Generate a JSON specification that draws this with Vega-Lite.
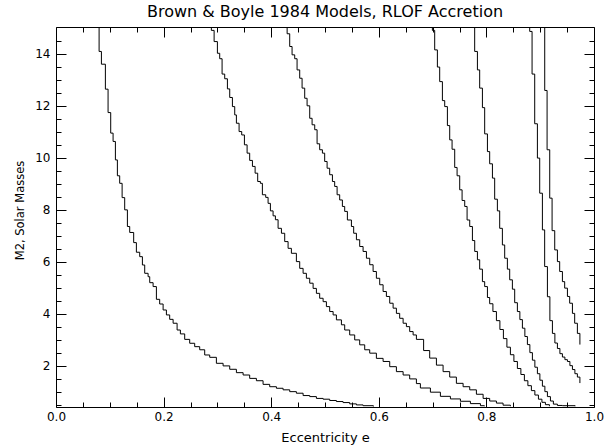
{
"$schema": "https://vega.github.io/schema/vega-lite/v6.json",
"autosize": {"type": "none"},
"width": 538, "height": 380,
"padding": {"left": 56, "top": 27, "right": 18, "bottom": 40},
"background": "white",
"title": {"text": "Brown & Boyle 1984 Models, RLOF Accretion", "font": "DejaVu Sans", "fontSize": 16, "fontWeight": "normal", "color": "black", "anchor": "middle", "frame": "group", "offset": 5},
"data": {"values": [
{"c":1,"e":0.0801,"m":15.0},{"c":1,"e":0.0801,"m":14.09},{"c":1,"e":0.0844,"m":13.60},{"c":1,"e":0.0918,"m":12.64},{"c":1,"e":0.0968,"m":11.74},{"c":1,"e":0.1017,"m":10.95},{"c":1,"e":0.1061,"m":10.63},{"c":1,"e":0.1104,"m":9.92},{"c":1,"e":0.1141,"m":9.31},{"c":1,"e":0.1184,"m":9.02},{"c":1,"e":0.1229,"m":8.47},{"c":1,"e":0.1277,"m":8.00},{"c":1,"e":0.1327,"m":7.36},{"c":1,"e":0.1370,"m":7.13},{"c":1,"e":0.1444,"m":6.74},{"c":1,"e":0.1494,"m":6.37},{"c":1,"e":0.1556,"m":6.20},{"c":1,"e":0.1606,"m":5.88},{"c":1,"e":0.1649,"m":5.56},{"c":1,"e":0.1712,"m":5.43},{"c":1,"e":0.1742,"m":5.20},{"c":1,"e":0.1805,"m":5.05},{"c":1,"e":0.1866,"m":4.56},{"c":1,"e":0.1927,"m":4.38},{"c":1,"e":0.1991,"m":4.15},{"c":1,"e":0.2052,"m":3.96},{"c":1,"e":0.2113,"m":3.79},{"c":1,"e":0.2177,"m":3.64},{"c":1,"e":0.2251,"m":3.38},{"c":1,"e":0.2312,"m":3.23},{"c":1,"e":0.2392,"m":3.02},{"c":1,"e":0.2485,"m":2.87},{"c":1,"e":0.2578,"m":2.74},{"c":1,"e":0.2671,"m":2.62},{"c":1,"e":0.2764,"m":2.42},{"c":1,"e":0.2857,"m":2.33},{"c":1,"e":0.2981,"m":2.10},{"c":1,"e":0.3106,"m":2.00},{"c":1,"e":0.3229,"m":1.87},{"c":1,"e":0.3353,"m":1.74},{"c":1,"e":0.3478,"m":1.65},{"c":1,"e":0.3600,"m":1.52},{"c":1,"e":0.3725,"m":1.43},{"c":1,"e":0.3849,"m":1.29},{"c":1,"e":0.3972,"m":1.20},{"c":1,"e":0.4097,"m":1.14},{"c":1,"e":0.4221,"m":1.08},{"c":1,"e":0.4344,"m":1.01},{"c":1,"e":0.4468,"m":0.95},{"c":1,"e":0.4593,"m":0.86},{"c":1,"e":0.4716,"m":0.82},{"c":1,"e":0.4840,"m":0.75},{"c":1,"e":0.4965,"m":0.72},{"c":1,"e":0.5087,"m":0.67},{"c":1,"e":0.5212,"m":0.63},{"c":1,"e":0.5336,"m":0.59},{"c":1,"e":0.5459,"m":0.54},{"c":1,"e":0.5584,"m":0.50},{"c":1,"e":0.5708,"m":0.47},{"c":1,"e":0.5900,"m":0.44},
{"c":2,"e":0.2888,"m":15.0},{"c":2,"e":0.2888,"m":14.90},{"c":2,"e":0.2939,"m":14.47},{"c":2,"e":0.3000,"m":14.02},{"c":2,"e":0.3043,"m":13.81},{"c":2,"e":0.3087,"m":13.22},{"c":2,"e":0.3136,"m":13.04},{"c":2,"e":0.3186,"m":12.65},{"c":2,"e":0.3229,"m":12.32},{"c":2,"e":0.3279,"m":11.97},{"c":2,"e":0.3322,"m":11.65},{"c":2,"e":0.3353,"m":11.33},{"c":2,"e":0.3403,"m":11.01},{"c":2,"e":0.3452,"m":10.88},{"c":2,"e":0.3502,"m":10.50},{"c":2,"e":0.3552,"m":10.18},{"c":2,"e":0.3600,"m":9.90},{"c":2,"e":0.3651,"m":9.67},{"c":2,"e":0.3701,"m":9.41},{"c":2,"e":0.3749,"m":9.09},{"c":2,"e":0.3799,"m":9.02},{"c":2,"e":0.3836,"m":8.58},{"c":2,"e":0.3898,"m":8.48},{"c":2,"e":0.3942,"m":8.25},{"c":2,"e":0.3985,"m":7.96},{"c":2,"e":0.4035,"m":7.77},{"c":2,"e":0.4078,"m":7.62},{"c":2,"e":0.4128,"m":7.29},{"c":2,"e":0.4190,"m":7.10},{"c":2,"e":0.4251,"m":6.78},{"c":2,"e":0.4314,"m":6.52},{"c":2,"e":0.4375,"m":6.33},{"c":2,"e":0.4468,"m":6.01},{"c":2,"e":0.4530,"m":5.75},{"c":2,"e":0.4593,"m":5.56},{"c":2,"e":0.4654,"m":5.37},{"c":2,"e":0.4716,"m":5.18},{"c":2,"e":0.4779,"m":4.98},{"c":2,"e":0.4840,"m":4.79},{"c":2,"e":0.4901,"m":4.60},{"c":2,"e":0.4965,"m":4.47},{"c":2,"e":0.5026,"m":4.28},{"c":2,"e":0.5087,"m":4.09},{"c":2,"e":0.5151,"m":3.96},{"c":2,"e":0.5212,"m":3.77},{"c":2,"e":0.5305,"m":3.58},{"c":2,"e":0.5366,"m":3.38},{"c":2,"e":0.5459,"m":3.19},{"c":2,"e":0.5552,"m":3.00},{"c":2,"e":0.5645,"m":2.81},{"c":2,"e":0.5738,"m":2.62},{"c":2,"e":0.5831,"m":2.49},{"c":2,"e":0.5955,"m":2.29},{"c":2,"e":0.6080,"m":2.17},{"c":2,"e":0.6203,"m":1.97},{"c":2,"e":0.6327,"m":1.78},{"c":2,"e":0.6452,"m":1.65},{"c":2,"e":0.6574,"m":1.50},{"c":2,"e":0.6699,"m":1.32},{"c":2,"e":0.6773,"m":1.15},{"c":2,"e":0.6959,"m":0.99},{"c":2,"e":0.7145,"m":0.83},{"c":2,"e":0.7331,"m":0.73},{"c":2,"e":0.7517,"m":0.64},{"c":2,"e":0.7703,"m":0.55},{"c":2,"e":0.7889,"m":0.47},{"c":2,"e":0.7963,"m":0.45},
{"c":3,"e":0.4296,"m":15.0},{"c":3,"e":0.4296,"m":14.77},{"c":3,"e":0.4344,"m":14.28},{"c":3,"e":0.4388,"m":13.96},{"c":3,"e":0.4437,"m":13.81},{"c":3,"e":0.4481,"m":13.38},{"c":3,"e":0.4530,"m":13.06},{"c":3,"e":0.4574,"m":12.68},{"c":3,"e":0.4623,"m":12.29},{"c":3,"e":0.4667,"m":12.00},{"c":3,"e":0.4716,"m":11.52},{"c":3,"e":0.4760,"m":11.27},{"c":3,"e":0.4809,"m":11.08},{"c":3,"e":0.4853,"m":10.54},{"c":3,"e":0.4901,"m":10.31},{"c":3,"e":0.4952,"m":10.18},{"c":3,"e":0.4994,"m":9.86},{"c":3,"e":0.5039,"m":9.60},{"c":3,"e":0.5087,"m":9.35},{"c":3,"e":0.5138,"m":9.09},{"c":3,"e":0.5180,"m":8.90},{"c":3,"e":0.5225,"m":8.58},{"c":3,"e":0.5273,"m":8.38},{"c":3,"e":0.5323,"m":8.13},{"c":3,"e":0.5366,"m":7.94},{"c":3,"e":0.5416,"m":7.61},{"c":3,"e":0.5491,"m":7.36},{"c":3,"e":0.5533,"m":7.10},{"c":3,"e":0.5584,"m":6.85},{"c":3,"e":0.5645,"m":6.59},{"c":3,"e":0.5708,"m":6.40},{"c":3,"e":0.5770,"m":6.14},{"c":3,"e":0.5831,"m":5.89},{"c":3,"e":0.5894,"m":5.63},{"c":3,"e":0.5955,"m":5.37},{"c":3,"e":0.6017,"m":5.12},{"c":3,"e":0.6080,"m":4.86},{"c":3,"e":0.6141,"m":4.67},{"c":3,"e":0.6203,"m":4.41},{"c":3,"e":0.6266,"m":4.22},{"c":3,"e":0.6327,"m":4.02},{"c":3,"e":0.6388,"m":3.83},{"c":3,"e":0.6452,"m":3.64},{"c":3,"e":0.6513,"m":3.51},{"c":3,"e":0.6574,"m":3.32},{"c":3,"e":0.6638,"m":3.19},{"c":3,"e":0.6699,"m":3.02},{"c":3,"e":0.6833,"m":2.59},{"c":3,"e":0.6946,"m":2.30},{"c":3,"e":0.7071,"m":2.03},{"c":3,"e":0.7195,"m":1.78},{"c":3,"e":0.7318,"m":1.57},{"c":3,"e":0.7442,"m":1.33},{"c":3,"e":0.7567,"m":1.20},{"c":3,"e":0.7690,"m":1.08},{"c":3,"e":0.7814,"m":0.91},{"c":3,"e":0.7939,"m":0.75},{"c":3,"e":0.8061,"m":0.65},{"c":3,"e":0.8186,"m":0.57},{"c":3,"e":0.8310,"m":0.49},{"c":3,"e":0.8446,"m":0.45},
{"c":4,"e":0.6996,"m":15.0},{"c":4,"e":0.6996,"m":14.90},{"c":4,"e":0.7039,"m":14.15},{"c":4,"e":0.7089,"m":13.49},{"c":4,"e":0.7132,"m":12.93},{"c":4,"e":0.7182,"m":12.20},{"c":4,"e":0.7225,"m":11.97},{"c":4,"e":0.7275,"m":11.24},{"c":4,"e":0.7318,"m":10.69},{"c":4,"e":0.7362,"m":10.33},{"c":4,"e":0.7411,"m":9.63},{"c":4,"e":0.7455,"m":9.31},{"c":4,"e":0.7504,"m":8.77},{"c":4,"e":0.7548,"m":8.36},{"c":4,"e":0.7597,"m":8.13},{"c":4,"e":0.7641,"m":7.61},{"c":4,"e":0.7690,"m":7.36},{"c":4,"e":0.7740,"m":6.82},{"c":4,"e":0.7783,"m":6.40},{"c":4,"e":0.7833,"m":6.08},{"c":4,"e":0.7875,"m":5.72},{"c":4,"e":0.7926,"m":5.24},{"c":4,"e":0.7968,"m":5.05},{"c":4,"e":0.8019,"m":4.63},{"c":4,"e":0.8061,"m":4.39},{"c":4,"e":0.8121,"m":4.09},{"c":4,"e":0.8186,"m":3.74},{"c":4,"e":0.8251,"m":3.40},{"c":4,"e":0.8316,"m":3.05},{"c":4,"e":0.8381,"m":2.72},{"c":4,"e":0.8446,"m":2.43},{"c":4,"e":0.8511,"m":2.17},{"c":4,"e":0.8576,"m":1.90},{"c":4,"e":0.8641,"m":1.67},{"c":4,"e":0.8706,"m":1.43},{"c":4,"e":0.8771,"m":1.24},{"c":4,"e":0.8836,"m":1.05},{"c":4,"e":0.8901,"m":0.88},{"c":4,"e":0.8967,"m":0.72},{"c":4,"e":0.9032,"m":0.60},{"c":4,"e":0.9097,"m":0.51},{"c":4,"e":0.9171,"m":0.45},
{"c":5,"e":0.7782,"m":15.0},{"c":5,"e":0.7782,"m":14.09},{"c":5,"e":0.7833,"m":13.38},{"c":5,"e":0.7875,"m":12.68},{"c":5,"e":0.7926,"m":11.93},{"c":5,"e":0.7968,"m":10.92},{"c":5,"e":0.8019,"m":10.24},{"c":5,"e":0.8061,"m":9.77},{"c":5,"e":0.8112,"m":9.22},{"c":5,"e":0.8154,"m":8.41},{"c":5,"e":0.8204,"m":7.96},{"c":5,"e":0.8247,"m":7.29},{"c":5,"e":0.8297,"m":6.65},{"c":5,"e":0.8340,"m":6.14},{"c":5,"e":0.8390,"m":5.72},{"c":5,"e":0.8433,"m":5.31},{"c":5,"e":0.8483,"m":4.95},{"c":5,"e":0.8526,"m":4.43},{"c":5,"e":0.8576,"m":4.09},{"c":5,"e":0.8622,"m":3.78},{"c":5,"e":0.8669,"m":3.45},{"c":5,"e":0.8715,"m":3.13},{"c":5,"e":0.8762,"m":2.82},{"c":5,"e":0.8808,"m":2.51},{"c":5,"e":0.8855,"m":2.22},{"c":5,"e":0.8901,"m":1.95},{"c":5,"e":0.8948,"m":1.70},{"c":5,"e":0.8994,"m":1.45},{"c":5,"e":0.9041,"m":1.22},{"c":5,"e":0.9087,"m":1.01},{"c":5,"e":0.9134,"m":0.82},{"c":5,"e":0.9190,"m":0.65},{"c":5,"e":0.9245,"m":0.53},{"c":5,"e":0.9320,"m":0.48},{"c":5,"e":0.9413,"m":0.47},{"c":5,"e":0.9650,"m":0.45},
{"c":6,"e":0.8805,"m":15.0},{"c":6,"e":0.8805,"m":14.86},{"c":6,"e":0.8849,"m":13.22},{"c":6,"e":0.8898,"m":11.31},{"c":6,"e":0.8948,"m":9.99},{"c":6,"e":0.8991,"m":8.64},{"c":6,"e":0.9041,"m":7.23},{"c":6,"e":0.9083,"m":5.82},{"c":6,"e":0.9134,"m":4.66},{"c":6,"e":0.9180,"m":3.74},{"c":6,"e":0.9227,"m":3.25},{"c":6,"e":0.9273,"m":2.88},{"c":6,"e":0.9320,"m":2.67},{"c":6,"e":0.9366,"m":2.47},{"c":6,"e":0.9413,"m":2.34},{"c":6,"e":0.9459,"m":2.24},{"c":6,"e":0.9506,"m":2.17},{"c":6,"e":0.9552,"m":2.01},{"c":6,"e":0.9599,"m":1.86},{"c":6,"e":0.9645,"m":1.70},{"c":6,"e":0.9691,"m":1.57},{"c":6,"e":0.9738,"m":1.34},
{"c":7,"e":0.9084,"m":15.0},{"c":7,"e":0.9084,"m":12.59},{"c":7,"e":0.9128,"m":10.31},{"c":7,"e":0.9177,"m":8.45},{"c":7,"e":0.9221,"m":7.20},{"c":7,"e":0.9270,"m":6.46},{"c":7,"e":0.9320,"m":6.01},{"c":7,"e":0.9362,"m":5.63},{"c":7,"e":0.9413,"m":5.24},{"c":7,"e":0.9455,"m":4.99},{"c":7,"e":0.9506,"m":4.67},{"c":7,"e":0.9548,"m":4.41},{"c":7,"e":0.9599,"m":4.02},{"c":7,"e":0.9641,"m":3.64},{"c":7,"e":0.9691,"m":3.25},{"c":7,"e":0.9738,"m":2.82}
]},
"layer": [
{"mark": {"type": "line", "interpolate": "step-after", "color": "black", "strokeWidth": 1, "clip": true},
 "encoding": {
  "x": {"field": "e", "type": "quantitative", "scale": {"domain": [0, 1], "nice": false, "zero": false},
        "axis": {"orient": "bottom", "values": [0, 0.2, 0.4, 0.6, 0.8, 1.0], "format": ".1f", "tickSize": -10, "labelPadding": 14, "labelFlush": false, "labelOverlap": false, "labelFont": "DejaVu Sans", "labelFontSize": 12, "labelColor": "black", "grid": false, "domainColor": "black", "tickColor": "black", "title": "Eccentricity e", "titleFont": "DejaVu Sans", "titleFontSize": 13, "titleFontWeight": "normal", "titleColor": "black", "titleY": 30, "titleBaseline": "middle"}},
  "y": {"field": "m", "type": "quantitative", "scale": {"domain": [0.42, 15.03], "nice": false, "zero": false},
        "axis": {"orient": "left", "values": [2, 4, 6, 8, 10, 12, 14], "format": "d", "tickSize": -10, "labelPadding": 16, "labelFlush": false, "labelOverlap": false, "labelFont": "DejaVu Sans", "labelFontSize": 12, "labelColor": "black", "grid": false, "domainColor": "black", "tickColor": "black", "title": "M2, Solar Masses", "titleFont": "DejaVu Sans", "titleFontSize": 11.5, "titleFontWeight": "normal", "titleColor": "black", "titleX": -36, "titleY": 183, "titleAngle": -90, "titleBaseline": "middle", "titleAlign": "center"}},
  "detail": {"field": "c", "type": "nominal"}
 }},
{"mark": {"type": "point", "opacity": 0},
 "encoding": {
  "x": {"field": "e", "type": "quantitative", "scale": {"domain": [0, 1], "nice": false, "zero": false},
        "axis": {"orient": "top", "values": [0, 0.2, 0.4, 0.6, 0.8, 1.0], "tickSize": -10, "labels": false, "grid": false, "domainColor": "black", "tickColor": "black", "title": null}},
  "y": {"field": "m", "type": "quantitative", "scale": {"domain": [0.42, 15.03], "nice": false, "zero": false},
        "axis": {"orient": "right", "values": [2, 4, 6, 8, 10, 12, 14], "tickSize": -10, "labels": false, "grid": false, "domainColor": "black", "tickColor": "black", "title": null}}
 }},
{"mark": {"type": "point", "opacity": 0},
 "encoding": {
  "x": {"field": "e", "type": "quantitative", "scale": {"domain": [0, 1], "nice": false, "zero": false},
        "axis": {"orient": "bottom", "values": [0.05, 0.1, 0.15, 0.25, 0.3, 0.35, 0.45, 0.5, 0.55, 0.65, 0.7, 0.75, 0.85, 0.9, 0.95], "tickSize": -5, "labels": false, "domain": false, "grid": false, "tickColor": "black", "title": null}},
  "y": {"field": "m", "type": "quantitative", "scale": {"domain": [0.42, 15.03], "nice": false, "zero": false},
        "axis": {"orient": "left", "values": [0.5, 1, 1.5, 2.5, 3, 3.5, 4.5, 5, 5.5, 6.5, 7, 7.5, 8.5, 9, 9.5, 10.5, 11, 11.5, 12.5, 13, 13.5, 14.5], "tickSize": -5, "labels": false, "domain": false, "grid": false, "tickColor": "black", "title": null}}
 }},
{"mark": {"type": "point", "opacity": 0},
 "encoding": {
  "x": {"field": "e", "type": "quantitative", "scale": {"domain": [0, 1], "nice": false, "zero": false},
        "axis": {"orient": "top", "values": [0.05, 0.1, 0.15, 0.25, 0.3, 0.35, 0.45, 0.5, 0.55, 0.65, 0.7, 0.75, 0.85, 0.9, 0.95], "tickSize": -5, "labels": false, "domain": false, "grid": false, "tickColor": "black", "title": null}},
  "y": {"field": "m", "type": "quantitative", "scale": {"domain": [0.42, 15.03], "nice": false, "zero": false},
        "axis": {"orient": "right", "values": [0.5, 1, 1.5, 2.5, 3, 3.5, 4.5, 5, 5.5, 6.5, 7, 7.5, 8.5, 9, 9.5, 10.5, 11, 11.5, 12.5, 13, 13.5, 14.5], "tickSize": -5, "labels": false, "domain": false, "grid": false, "tickColor": "black", "title": null}}
 }}
],
"resolve": {"axis": {"x": "independent", "y": "independent"}},
"config": {"view": {"stroke": null}, "axis": {"tickWidth": 1, "domainWidth": 1}}
}
